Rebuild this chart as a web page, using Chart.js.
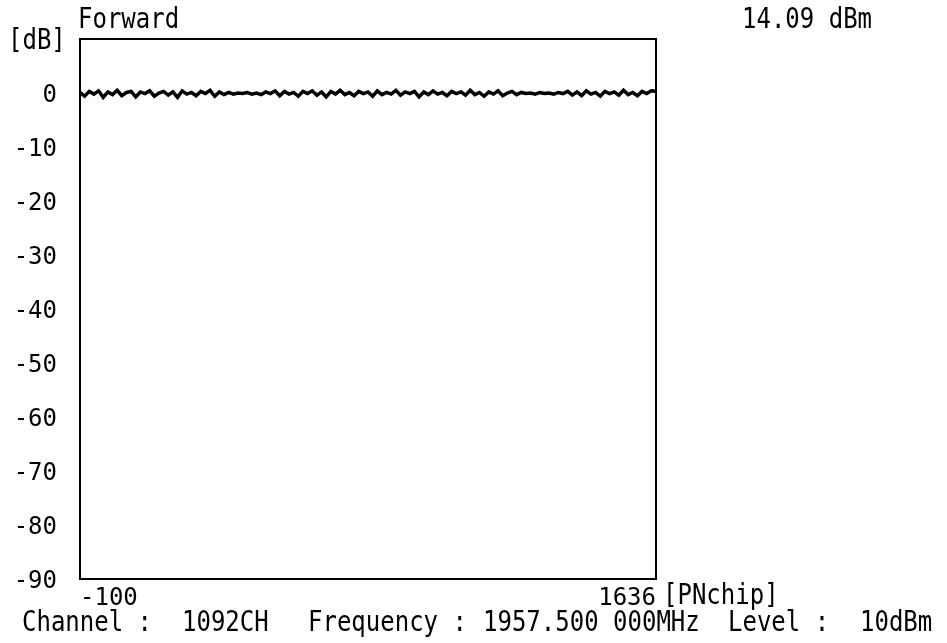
<!DOCTYPE html>
<html>
<head>
<meta charset="utf-8">
<script src="https://cdn.jsdelivr.net/npm/chart.js@4.4.1/dist/chart.umd.min.js"></script>
<style>
html,body{margin:0;padding:0;background:#fff;}
#wrap{width:947px;height:643px;position:relative;}
</style>
</head>
<body>
<div id="wrap"><canvas id="c" width="947" height="643"></canvas></div>
<script>
// ---- data ----
const chipStart = -100;
const chipEnd = 1636;
const chipStep = 14;
const levelDb = [
  0.1, -0.6, 0.3, -0.2, 0.4, -0.8, 0.2, -0.3, 0.5, -0.5, 0.1, 0.3, -0.7, 0.2, -0.1, 0.4, -0.6, 0.0, 0.3, -0.4, 0.2, -0.8, 0.4, -0.2, 0.1,
  -0.5, 0.3, -0.1, 0.5, -0.6, 0.2, -0.3, 0.1, -0.2, 0.0, -0.1, 0.1, -0.2, 0.0, -0.3, 0.2, -0.1, 0.4, -0.5, 0.3, -0.2, 0.1, -0.6, 0.3, -0.1,
  0.4, -0.4, 0.2, -0.7, 0.3, -0.2, 0.5, -0.3, 0.1, -0.5, 0.3, -0.1, 0.2, -0.6, 0.4, -0.3, 0.1, -0.2, 0.5, -0.4, 0.2, -0.1, 0.3, -0.7, 0.2,
  -0.3, 0.4, -0.2, 0.1, -0.5, 0.3, -0.1, 0.2, -0.4, 0.5, -0.3, 0.1, -0.6, 0.2, -0.2, 0.4, -0.5, 0.0, 0.3, -0.3, 0.1, -0.1, 0.0, -0.2, 0.1,
  -0.1, 0.0, -0.2, 0.1, -0.1, 0.3, -0.4, 0.2, -0.5, 0.4, -0.2, 0.1, -0.6, 0.3, -0.1, 0.2, -0.4, 0.5, -0.3, 0.1, -0.5, 0.3, -0.1, 0.4, 0.3
];
const yMin = -90, yMax = 10, yStep = 10;
const xTickLabels = [chipStart, chipEnd];
const titleText = 'Forward';
const yUnit = '[dB]';
const xUnit = '[PNchip]';
const powerLabel = 'Tx Power :';
const powerValue = '14.09 dBm';
const footer = [
  ['Channel :', 22], ['1092CH', 182], ['Frequency :', 308], ['1957.500 000MHz', 483], ['Level :', 728], ['10dBm', 860]
];

const points = levelDb.map((v, i) => ({ x: chipStart + i * chipStep, y: v }));

const FONT = '24px "DejaVu Sans Mono"';

function tallText(ctx, t, x, y) {
  ctx.save();
  ctx.translate(x, y);
  ctx.scale(1, 1.15);
  ctx.fillText(t, 0, 0);
  ctx.restore();
}

const framePlugin = {
  id: 'frame',
  beforeDraw(chart) {
    const ctx = chart.ctx;
    ctx.save();
    ctx.fillStyle = '#fff';
    ctx.fillRect(0, 0, chart.width, chart.height);
    ctx.restore();
  },
  afterDraw(chart) {
    const ctx = chart.ctx;
    const a = chart.chartArea;
    ctx.save();
    ctx.strokeStyle = '#000';
    ctx.lineWidth = 2;
    ctx.strokeRect(a.left, a.top, a.right - a.left, a.bottom - a.top);
    ctx.fillStyle = '#000';
    ctx.font = FONT;
    ctx.textBaseline = 'middle';
    ctx.textAlign = 'left';
    tallText(ctx, titleText, 78, 21);
    tallText(ctx, yUnit, 8, 42);
    tallText(ctx, xUnit, 663, 597);
    tallText(ctx, powerLabel, 672, -9);
    tallText(ctx, powerValue, 742, 21);
    footer.forEach(([t, x]) => tallText(ctx, t, x, 624));
    ctx.restore();
  }
};

new Chart(document.getElementById('c'), {
  type: 'line',
  data: {
    datasets: [{
      data: points,
      borderColor: '#000',
      borderWidth: 3.5,
      pointRadius: 0,
      tension: 0,
      fill: false
    }]
  },
  options: {
    responsive: false,
    animation: false,
    devicePixelRatio: 1,
    layout: { padding: { left: 0, right: 291, top: 39, bottom: 0 } },
    plugins: { legend: { display: false }, tooltip: { enabled: false } },
    scales: {
      x: {
        type: 'linear',
        min: chipStart,
        max: chipEnd,
        grid: { display: false },
        border: { display: false },
        afterBuildTicks(scale) { scale.ticks = xTickLabels.map(v => ({ value: v })); },
        afterFit(scale) { scale.height = 64; },
        ticks: {
          color: '#000',
          font: { family: 'DejaVu Sans Mono', size: 24 },
          align: 'inner',
          padding: -3,
          maxRotation: 0,
          autoSkip: false,
          callback: v => String(v)
        }
      },
      y: {
        min: yMin,
        max: yMax,
        grid: { display: false },
        border: { display: false },
        afterFit(scale) { scale.width = 80; },
        ticks: {
          stepSize: yStep,
          color: '#000',
          font: { family: 'DejaVu Sans Mono', size: 24 },
          padding: 15,
          labelOffset: 3,
          callback: v => (v > 0 ? '' : String(v))
        }
      }
    }
  },
  plugins: [framePlugin]
});
</script>
</body>
</html>
